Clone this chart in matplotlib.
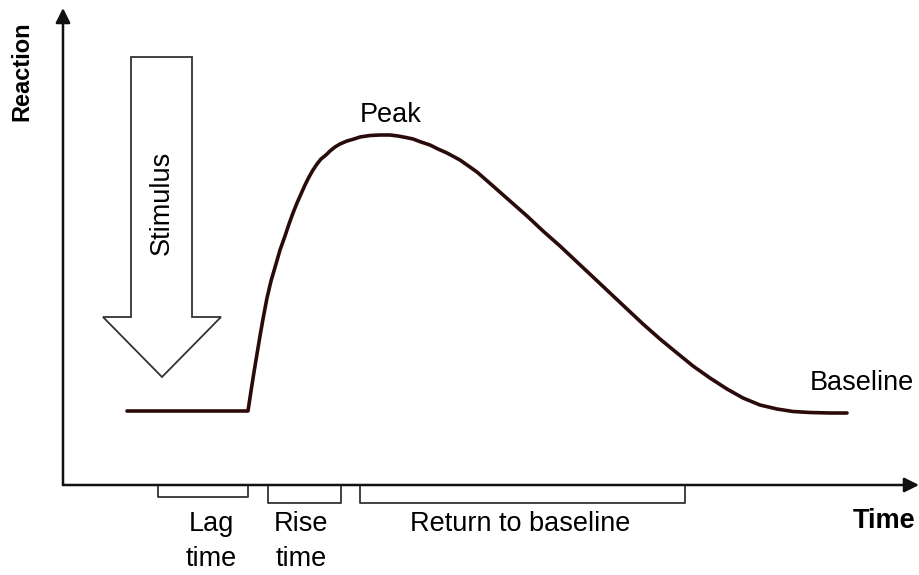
import numpy as np
import matplotlib.pyplot as plt
from matplotlib.patches import Polygon

plt.rcParams['font.family'] = ['Liberation Sans', 'DejaVu Sans']

# response curve (x, y in picture units, y grows downward)
curve_x = [127, 248, 251, 254, 257, 260, 263, 267, 271, 276, 280, 285, 289, 293, 297, 301, 305,
           309, 313, 317, 321, 326, 330, 335, 340, 347, 354, 360, 370, 380, 390, 398, 406,
           413, 421, 430, 438, 447, 460, 477, 493, 510, 527, 543, 560, 577, 593, 610,
           627, 643, 660, 677, 693, 710, 727, 743, 760, 777, 793, 810, 830, 847]
curve_y = [411, 411, 391, 372, 354, 336, 319, 298, 281, 264, 250, 236, 224, 213, 203, 194, 185,
           177, 170, 164, 159, 155, 151, 147, 144, 141, 139, 137, 135.5, 135, 135, 136, 137.5,
           139, 142, 145, 149, 153, 160, 172, 186, 201, 216, 231, 246, 262, 277, 293,
           309, 324, 339, 353, 366, 378, 389, 398, 405, 409, 411.5, 412.5, 413, 413]

# stimulus arrow outline
arrow_x = [131, 192, 192, 221, 162, 103, 131]
arrow_y = [57, 57, 317, 317, 377, 317, 317]

# brackets under the time axis: start, end, depth
bracket_start = [158, 268, 360]
bracket_end = [248, 341, 685]
bracket_bottom = [497, 503, 503]
bracket_labels = ["Lag\ntime", "Rise\ntime", "Return to baseline"]
label_x = [211, 301, 520]
label_y = [511, 511, 511]

axis_y = 485
axis_x = 63

fig = plt.figure(figsize=(9.19, 5.75), dpi=100)
ax = fig.add_axes([0, 0, 1, 1])
ax.set_xlim(0, 919)
ax.set_ylim(575, 0)
ax.axis('off')

# axes with arrow heads
ax.annotate("", xy=(919, axis_y), xytext=(axis_x, axis_y),
            arrowprops=dict(arrowstyle='-|>', color='#111111', lw=1.8,
                            mutation_scale=22, shrinkA=0, shrinkB=0))
ax.annotate("", xy=(axis_x, 8), xytext=(axis_x, axis_y),
            arrowprops=dict(arrowstyle='-|>', color='#111111', lw=1.8,
                            mutation_scale=22, shrinkA=0, shrinkB=0))

ax.plot(curve_x, curve_y, color='#2b0a0a', lw=2.6, solid_capstyle='round',
        solid_joinstyle='round')

ax.add_patch(Polygon(list(zip(arrow_x, arrow_y)), closed=True, fill=False,
                     edgecolor='#333333', lw=1.3))
ax.text(162, 203, "Stimulus", rotation=90, ha='center', va='center', fontsize=19.5)

for s, e, b in zip(bracket_start, bracket_end, bracket_bottom):
    ax.plot([s, s, e, e], [axis_y, b, b, axis_y], color='#333333', lw=1.3)

for lab, x, y in zip(bracket_labels, label_x, label_y):
    ax.text(x, y, lab, ha='center', va='top', fontsize=19.5, linespacing=1.45)

ax.text(391, 115, "Peak", ha='center', va='center', fontsize=19.5)
ax.text(862, 383, "Baseline", ha='center', va='center', fontsize=19.5)
ax.text(884, 521, "Time", ha='center', va='center', fontsize=19.5, fontweight='bold')
ax.text(22, 71, "Reaction", rotation=90, ha='center', va='center', fontsize=17,
        fontweight='bold')

fig.savefig("out.png", dpi=100)
